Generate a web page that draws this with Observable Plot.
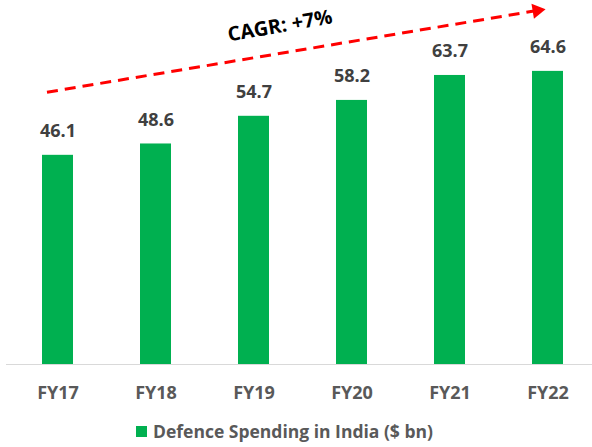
<!DOCTYPE html>
<html>
<head>
<meta charset="utf-8">
<script src="https://cdn.jsdelivr.net/npm/d3@7"></script>
<script src="https://cdn.jsdelivr.net/npm/@observablehq/plot@0.6"></script>
<style>
  body { margin: 0; background: #fff; font-family: "Open Sans", sans-serif; }
  #chart svg { display: block; }
  #chart g[aria-label^="x-axis"] text { font-size: 18px; font-weight: bold; fill: #595959; font-family: "Open Sans", sans-serif; }
  .legend { height: 42px; display: flex; align-items: center; padding-left: 136px; font-family: "Open Sans", sans-serif; font-weight: bold; font-size: 17.5px; color: #595959; }
  .legend .sw { width: 11px; height: 11px; background: #00b050; margin-right: 6px; }
</style>
</head>
<body>
<div id="chart"></div>
<script>
const categories = ["FY17", "FY18", "FY19", "FY20", "FY21", "FY22"];
const values = [46.1, 48.6, 54.7, 58.2, 63.7, 64.6];
const seriesName = "Defence Spending in India ($ bn)";
const cagrLabel = "CAGR: +7%";
// trend arrow annotation, in data units (category, value)
const trendCats = ["FY17", "FY22"];
const trendVals = [60, 78];
const labelCat = ["FY19"];
const labelVal = [74.6];

const data = categories.map((c, i) => ({cat: c, value: values[i]}));
const trend = [{x1: trendCats[0], y1: trendVals[0], x2: trendCats[1], y2: trendVals[1]}];

const chart = Plot.plot({
  width: 592,
  height: 410,
  marginLeft: 6,
  marginRight: 0,
  marginTop: 1,
  marginBottom: 46,
  style: {fontFamily: "'Open Sans', sans-serif", background: "white"},
  x: {domain: categories, range: [6, 598], paddingInner: 0.686, paddingOuter: 0.343, tickSize: 0, tickPadding: 22, label: null},
  y: {domain: [0, 80], axis: null},
  marks: [
    Plot.barY(data, {x: "cat", y: "value", fill: "#00b050"}),
    Plot.ruleY([0], {stroke: "#d9d9d9", strokeWidth: 1}),
    Plot.text(data, {x: "cat", y: "value", text: d => d.value.toFixed(1), dy: -24, fontSize: 18, fontWeight: "bold", fill: "#404040"}),
    Plot.link(trend, {x1: "x1", y1: "y1", x2: "x2", y2: "y2", dx: -11, stroke: "#ff0000", strokeWidth: 3, strokeDasharray: "11,7"}),
    Plot.dot(trend, {x: "x2", y: "y2", dx: -11, symbol: "triangle", r: 5.6, fill: "#ff0000", stroke: "none", rotate: 80.6}),
    Plot.text(labelCat, {x: d => d, y: (d, i) => labelVal[i], text: () => cagrLabel, dx: 26, rotate: -10, fontSize: 20, fontWeight: "bold", fill: "#000000"})
  ]
});
document.getElementById("chart").append(chart);

const legend = document.createElement("div");
legend.className = "legend";
legend.innerHTML = `<span class="sw"></span><span></span>`;
legend.lastChild.textContent = seriesName;
document.body.append(legend);
</script>
</body>
</html>
